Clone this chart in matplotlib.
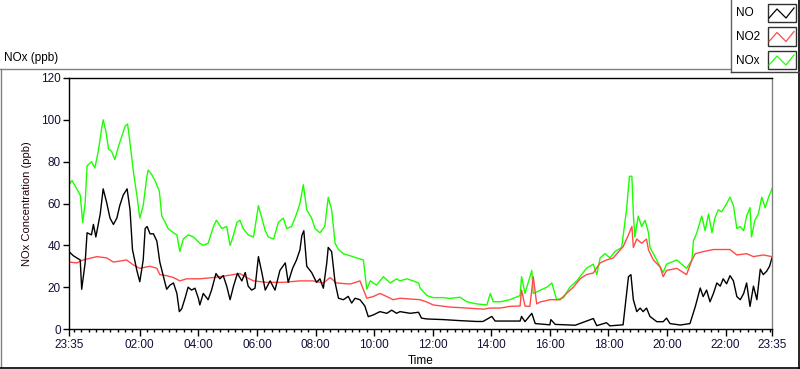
import matplotlib
matplotlib.use("Agg")
import matplotlib.pyplot as plt
from matplotlib.lines import Line2D
from matplotlib.patches import Rectangle
from matplotlib.ticker import FixedLocator

plt.rcParams['font.family'] = ['Liberation Sans', 'DejaVu Sans']

# minutes after 23:35 (start of the 24 h record)
no_min = [0, 9, 23, 26, 33, 37, 46, 50, 55, 64, 70, 77, 84, 91, 98, 104, 111, 119, 125, 130,
          139, 145, 152, 156, 160, 166, 173, 180, 186, 193, 200, 207, 214, 221, 226, 231, 238,
          244, 251, 258, 265, 268, 275, 285, 292, 301, 309, 316, 323, 330, 337, 345, 354, 361,
          367, 374, 381, 388, 395, 402, 412, 422, 432, 443, 449, 458, 466, 473, 477, 481, 487,
          497, 507, 514, 521, 528, 531, 538, 545, 552, 562, 572, 579, 586, 596, 606, 613, 623,
          637, 651, 661, 671, 678, 699, 716, 722, 733, 766, 801, 835, 848, 866, 873, 903, 924,
          927, 934, 948, 955, 985, 987, 996, 1037, 1074, 1081, 1101, 1108, 1135, 1146, 1151,
          1156, 1163, 1170, 1176, 1183, 1190, 1204, 1217, 1224, 1231, 1252, 1272, 1283, 1293,
          1299, 1306, 1313, 1320, 1327, 1334, 1340, 1347, 1354, 1361, 1368, 1375, 1382, 1388,
          1395, 1402, 1409, 1416, 1422, 1429, 1435, 1440]
no_val = [37, 35, 33, 19, 31.5, 46, 45, 50, 44, 55, 67, 60.6, 53, 50, 53, 59, 64, 67, 57, 38,
          28, 22.6, 33, 48, 49, 45.5, 45.5, 42, 32, 25.5, 19, 21, 22, 17, 8.3, 9.7, 15,
          20, 18.6, 19.5, 14.7, 11.5, 17, 14, 18.6, 26.5, 24, 25.5, 20.5, 14, 20.5, 26.6, 23, 27,
          20.5, 18.6, 19.5, 34.6, 27, 18.6, 23, 18.6, 28, 31.6, 22.3, 29, 33, 37.8, 44.7, 47, 30,
          27, 22.3, 24, 19.5, 31.6, 39, 37, 22.3, 14.7, 14, 15.6, 12.4, 14.7, 14, 11, 5.9, 6.7,
          8.3, 7.5, 9, 7.5, 8.3, 7.5, 8, 5.2, 4.8, 4.5, 4, 3.6, 3.6, 6, 3.8, 3.8, 3.8,
          6, 3.5, 7.5, 2.6, 2, 4.5, 2.2, 1.8, 5, 1.6, 3, 1.5, 2, 25, 26,
          14, 8.3, 10, 8.3, 10, 6, 3.5, 3.5, 5.2, 2.6, 1.9, 2.6, 10.8, 19.6,
          15.5, 18.6, 13, 17, 22, 20.5, 24, 21.6, 25.5, 23, 15.5, 14, 17, 22,
          10.8, 20.5, 14, 28.6, 26, 27.6, 30, 34]

no2_min = [0, 16, 29, 57, 77, 91, 118, 132, 145, 166, 180, 186, 200, 214, 227, 241, 268, 296,
           323, 350, 364, 378, 405, 439, 473, 500, 521, 535, 548, 576, 596, 610, 623, 637, 651,
           664, 678, 719, 733, 746, 780, 815, 849, 862, 883, 903, 924, 927, 934, 944, 951, 958,
           965, 985, 1006, 1019, 1033, 1047, 1060, 1074, 1088, 1101, 1115, 1129, 1135, 1146,
           1153, 1156, 1163, 1173, 1183, 1187, 1197, 1211, 1217, 1224, 1245, 1265, 1276, 1283,
           1299, 1320, 1340, 1354, 1368, 1388, 1402, 1422, 1440]
no2_val = [32, 31.6, 33, 34.6, 34, 32, 33, 30.6, 29, 30, 29, 26, 25.5, 24.6, 23, 24, 24, 24.6,
           25.5, 26.5, 24.6, 23, 22.3, 22.3, 23, 23, 22, 24.6, 22, 21.5, 23, 14.7, 15.5, 17, 15.5,
           14, 14.7, 14, 12.9, 11.5, 10.5, 10, 9.5, 10, 10, 10.8, 11, 18.6, 11, 10.8, 25, 12,
           12.9, 14, 14, 17, 20, 24, 26, 26.8, 31.6, 33, 34, 37.8, 39.3, 45,
           49, 39, 43, 41, 43, 37.8, 33, 29.6, 25, 28, 29, 26, 33, 36,
           37, 38, 38, 38, 35.4, 36, 34.6, 35.4, 34.6]

nox_min = [0, 6, 16, 23, 28, 33, 37, 46, 53, 60, 67, 70, 76, 81, 87, 94, 101, 108, 115, 120,
           125, 132, 139, 145, 152, 159, 162, 169, 176, 185, 190, 197, 203, 214, 221, 227, 234,
           244, 255, 268, 275, 285, 296, 302, 313, 323, 330, 337, 344, 350, 357, 367, 378, 388,
           395, 402, 408, 419, 429, 439, 446, 456, 466, 473, 480, 487, 497, 504, 514, 524, 531,
           538, 545, 552, 562, 576, 589, 603, 610, 617, 630, 644, 658, 671, 678, 692, 705, 716,
           719, 733, 746, 767, 780, 801, 815, 835, 856, 863, 869, 883, 903, 924, 927, 934, 948,
           951, 965, 979, 989, 999, 1013, 1026, 1040, 1050, 1060, 1074, 1081, 1088, 1098, 1108,
           1118, 1132, 1142, 1148, 1153, 1156, 1159, 1166, 1173, 1180, 1187, 1190, 1197, 1217,
           1224, 1245, 1265, 1276, 1279, 1286, 1296, 1303, 1310, 1317, 1323, 1330, 1337, 1347,
           1354, 1361, 1368, 1375, 1382, 1388, 1395, 1398, 1405, 1412, 1419, 1426, 1433, 1440]
nox_val = [69, 71, 67, 64, 51, 60, 78, 80, 77, 85, 96, 100, 94, 86, 85, 81, 87, 92, 97, 98,
           89, 75, 64, 53, 59, 72, 76, 74, 71, 66, 54, 51, 48, 46, 45, 37, 43,
           45, 44, 41, 40, 41, 49, 52, 48, 49, 40, 45, 51, 52, 48, 45, 44, 59,
           53, 47, 44, 43, 51, 53, 48, 49, 55, 60, 69, 57, 53, 48, 46, 49, 63,
           57, 41, 38, 36, 35, 34, 33, 19, 23, 21, 25, 22, 24, 23, 24, 23, 22,
           19.6, 16, 15, 15, 14.6, 15.2, 13, 12, 11.5, 17, 13, 13, 14, 16, 25, 17, 28,
           17, 18.5, 20, 22, 14, 15, 20, 23, 26, 29, 31, 26, 34, 36, 34,
           37, 39, 57, 73, 73, 55, 44, 54, 49, 52, 46, 39, 36, 27,
           31, 33, 29, 33, 42, 46, 54, 47, 55, 46, 53, 57, 56, 60,
           63, 59, 48, 49, 47, 54, 58, 44, 52, 55, 63, 58, 63, 67]

series_names = ['NO', 'NO2', 'NOx']
series_colors = ['#000000', '#ff4a4a', '#1cff00']

# time axis: 23:35 .. 23:35, labels on even hours
major_ticks = [0, 145, 265, 385, 505, 625, 745, 865, 985, 1105, 1225, 1345, 1440]
major_labels = ['23:35', '02:00', '04:00', '06:00', '08:00', '10:00', '12:00', '14:00',
                '16:00', '18:00', '20:00', '22:00', '23:35']

W, H = 800, 369
fig = plt.figure(figsize=(W / 100, H / 100), dpi=100)


def fx(x):
    return x / W


def fy(y):
    return 1 - y / H


ax = fig.add_axes([fx(69), fy(329), fx(772) - fx(69), fy(78) - fy(329)])

ax.plot(nox_min, nox_val, color=series_colors[2], lw=1)
ax.plot(no2_min, no2_val, color=series_colors[1], lw=1)
ax.plot(no_min, no_val, color=series_colors[0], lw=1)

ax.set_xlim(0, 1440)
ax.set_ylim(0, 120)
ax.set_yticks(range(0, 121, 20))
ax.set_xticks(major_ticks)
ax.set_xticklabels(major_labels)
ax.xaxis.set_minor_locator(FixedLocator(list(range(10, 1440, 15))))
ax.tick_params(axis='both', which='major', direction='out', length=4, width=1,
               labelsize=8.5, colors='black', labelcolor='#101038', pad=2)
ax.tick_params(axis='x', which='minor', direction='out', length=2.5, width=1, color='black')
ax.tick_params(axis='x', which='major', length=5)
for side in ['left', 'bottom', 'top']:
    ax.spines[side].set_color('black')
ax.spines['right'].set_color('#808080')
for s in ax.spines.values():
    s.set_linewidth(1)

ax.set_xlabel('Time', fontsize=8.5, labelpad=3)
ax.set_ylabel('NOx Concentration (ppb)', fontsize=8, color='#200010', labelpad=6)

fig.text(fx(4), fy(58), 'NOx (ppb)', fontsize=8.5, va='center', ha='left')

# panel frame
fig.add_artist(Line2D([fx(0), fx(730)], [fy(69), fy(69)], color='#808080', lw=1))
fig.add_artist(Line2D([fx(0.5), fx(0.5)], [fy(69), fy(367)], color='#808080', lw=1))
fig.add_artist(Line2D([fx(0), fx(800)], [fy(367.5), fy(367.5)], color='black', lw=1.2))
fig.add_artist(Line2D([fx(798.5), fx(798.5)], [fy(0), fy(368)], color='black', lw=1.2))

# legend box
fig.add_artist(Line2D([fx(730.5), fx(730.5)], [fy(0), fy(72)], color='#606060', lw=1))
fig.add_artist(Line2D([fx(730.5), fx(799)], [fy(72), fy(72)], color='#404040', lw=1))
for i, (name, col) in enumerate(zip(series_names, series_colors)):
    top = 4 + i * 23.5
    fig.text(fx(736), fy(top + 9.5), name, fontsize=8.5, va='center', ha='left')
    fig.add_artist(Rectangle((fx(767.5), fy(top + 18)), fx(28), fy(top) - fy(top + 18),
                             transform=fig.transFigure, fill=False, ec='#303030', lw=1))
    zx = [769, 777, 786, 794]
    zy = [top + 14, top + 5, top + 14, top + 4]
    fig.add_artist(Line2D([fx(v) for v in zx], [fy(v) for v in zy], color=col, lw=0.9))

fig.savefig('out.png', dpi=100, facecolor='white')
